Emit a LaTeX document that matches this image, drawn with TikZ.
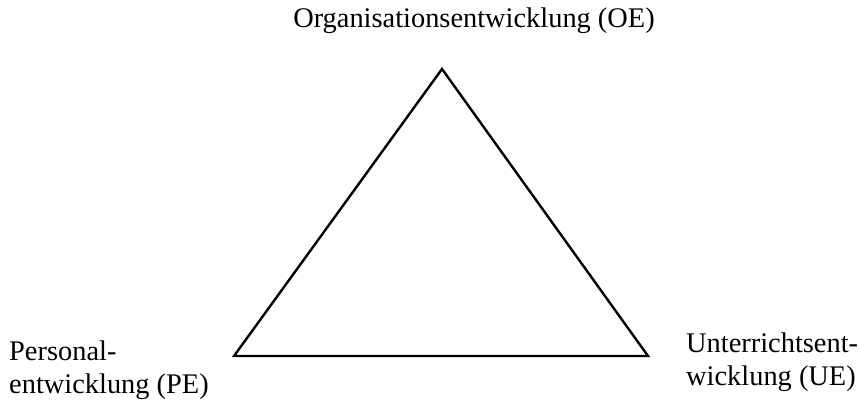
\documentclass[tikz,border=0pt]{standalone}
\usepackage{fontspec}
\setmainfont{Liberation Serif}
\begin{document}
\begin{tikzpicture}[x=1pt,y=-1pt,
  lbl/.style={inner sep=0pt, font=\fontsize{28.4}{33}\selectfont, align=left},
  edge/.style={line width=2.4pt, line join=miter}]
\useasboundingbox (0,0) rectangle (861,403);
\coordinate (top) at (442,69);
\coordinate (bl) at (234,356);
\coordinate (br) at (648,356);
\draw[edge] (top) -- (bl) -- (br) -- cycle;
\node[lbl, anchor=base] (oe) at (474,28) {Organisationsentwicklung (OE)};
\node[lbl, anchor=base west] (pe) at (9,393) {Personal-\\entwicklung (PE)};
\node[lbl, anchor=base west] (ue) at (686,385) {Unterrichtsent-\\wicklung (UE)};
\end{tikzpicture}
\end{document}
